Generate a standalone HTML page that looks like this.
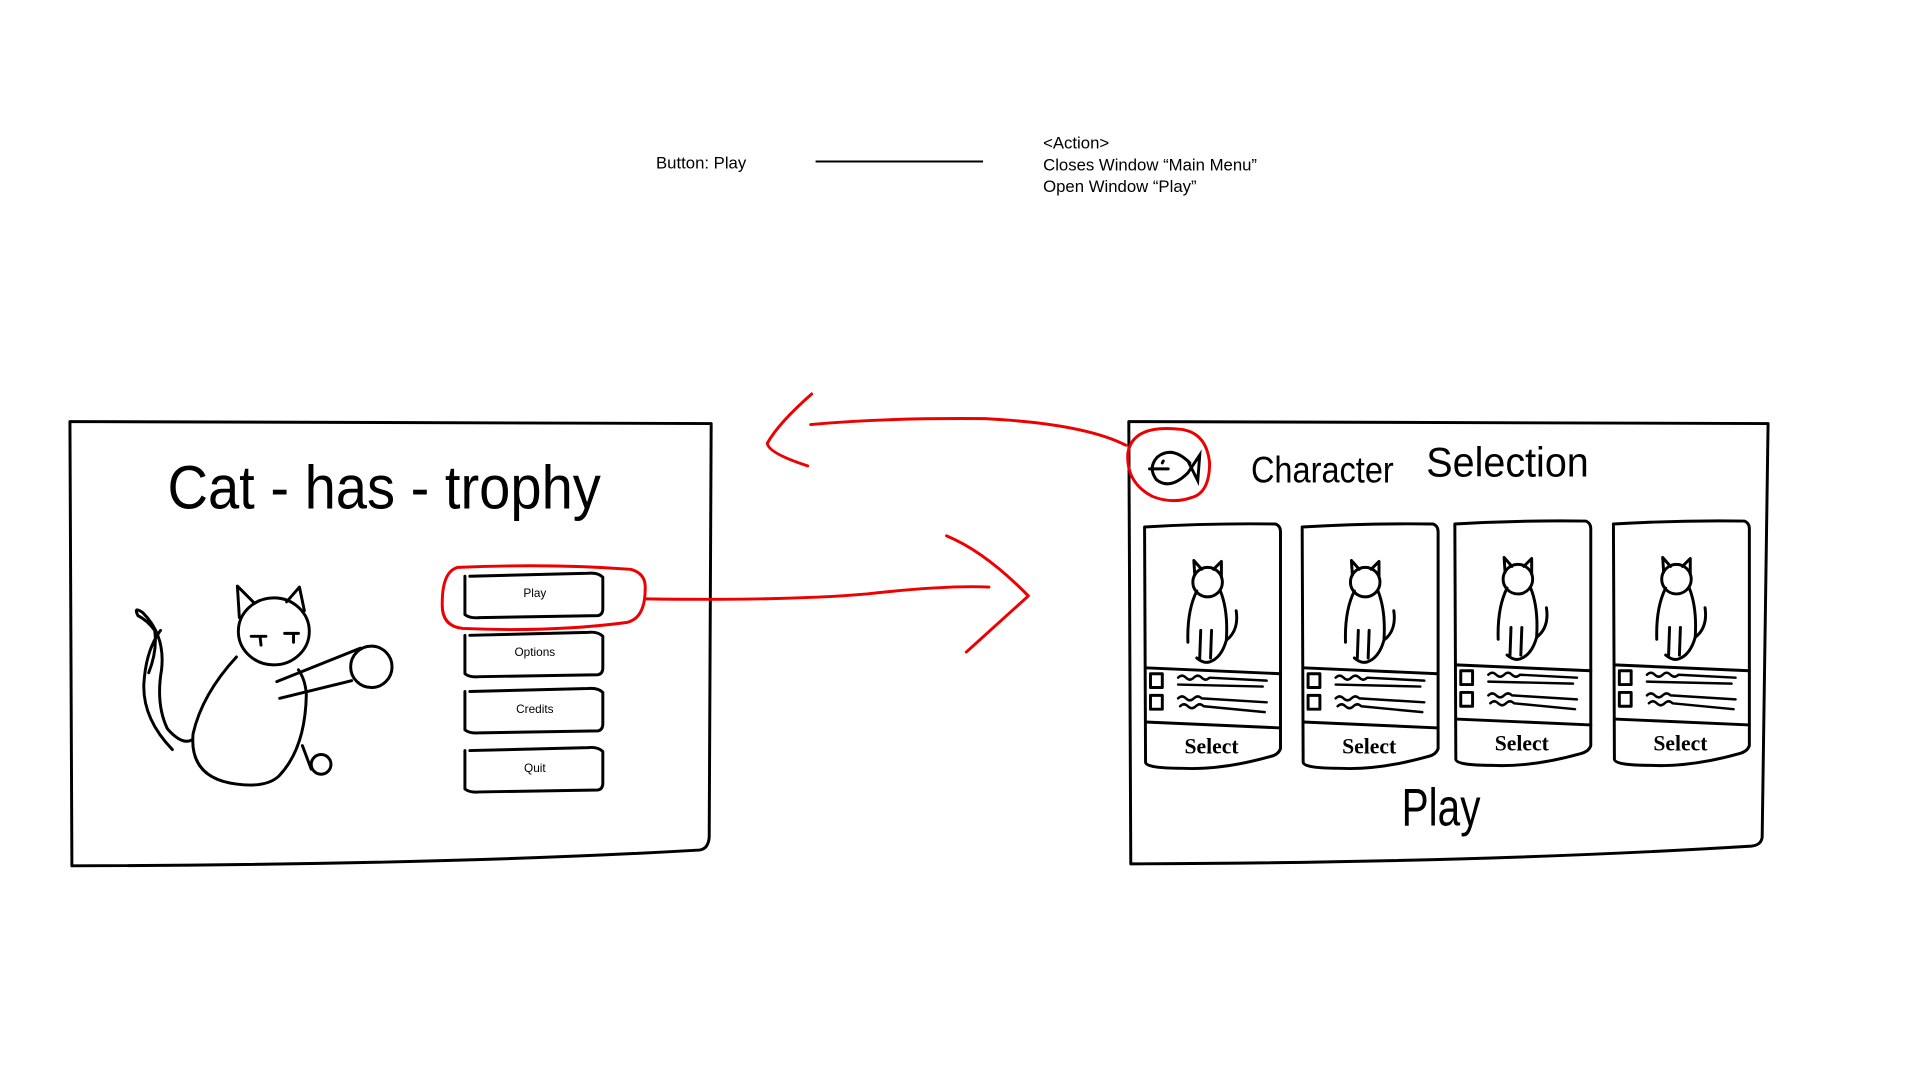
<!DOCTYPE html>
<html><head><meta charset="utf-8"><style>
html,body{margin:0;padding:0;background:#fff;width:1920px;height:1080px;overflow:hidden}
svg{display:block}
.t{font-family:"Liberation Sans",sans-serif;fill:#000}
</style></head><body>
<svg width="1920" height="1080" viewBox="0 0 1920 1080" xmlns="http://www.w3.org/2000/svg">
<g transform="scale(0.985)">
<g class="t" font-size="17">
<text x="666" y="171">Button: Play</text>
<text x="1059" y="151">&lt;Action&gt;</text>
<text x="1059" y="173">Closes Window “Main Menu”</text>
<text x="1059" y="195">Open Window “Play”</text>
</g>
<line x1="828" y1="164" x2="998" y2="164" stroke="#000" stroke-width="2"/>

<g fill="none" stroke="#000" stroke-width="3" stroke-linecap="round" stroke-linejoin="round">
<path d="M71 428 L722 430 L720 850 Q719 862 710 863 Q450 878 73 879 Z"/>
<g transform="translate(7,0)">
<path d="M465 585 L465 624 Q470 628 480 627 L600 625 Q605 624 605 618 L605 586 Q600 581 590 582 L470 585"/>
<path d="M465 645 L465 684 Q470 688 480 687 L600 685 Q605 684 605 678 L605 646 Q600 641 590 642 L470 645"/>
<path d="M465 702 L465 741 Q470 745 480 744 L600 742 Q605 741 605 735 L605 703 Q600 698 590 699 L470 702"/>
<path d="M465 762 L465 801 Q470 805 480 804 L600 802 Q605 801 605 795 L605 763 Q600 758 590 759 L470 762"/>
</g>
<ellipse cx="278" cy="641" rx="36" ry="34"/>
<path d="M243 627 L241 595 L258 612"/>
<path d="M291 611 L304 596 L309 620"/>
<path d="M255 646 L270 646 M264 646 L265 655 M289 643 L303 643 M298 643 L298 652"/>
<path d="M240 667 Q205 705 196 745 Q192 790 240 796 Q270 800 283 788 Q310 760 311 705 Q310 690 303 680"/>
<path d="M281 692 L366 658 M284 709 L357 691"/>
<circle cx="377" cy="677" r="21"/>
<path d="M175 761 Q145 730 146 695 Q148 660 163 640 M151 683 Q160 660 157 640 Q150 630 140 625 Q135 615 145 622 Q168 645 164 680 Q158 715 170 740 Q185 757 195 751"/>
<path d="M307 757 L316 781"/>
<circle cx="326" cy="776" r="10"/>
</g>
<g class="t" font-size="12" text-anchor="middle">
<text x="543" y="606">Play</text>
<text x="543" y="666">Options</text>
<text x="543" y="724">Credits</text>
<text x="543" y="784">Quit</text>
</g>
<text x="390" y="516" text-anchor="middle" font-family="Liberation Sans,sans-serif" font-size="62" textLength="440" lengthAdjust="spacingAndGlyphs">Cat - has - trophy</text>

<g fill="none" stroke="#000" stroke-width="3" stroke-linecap="round" stroke-linejoin="round">
<path d="M1146 428 L1795 430 L1789 850 Q1788 858 1778 859 Q1500 876 1148 877 Z"/>
</g>
<g id="card" fill="none" stroke="#000" stroke-width="3" stroke-linecap="round" stroke-linejoin="round">
<path d="M1162 535 Q1230 531 1295 532 Q1300 534 1300 540 L1300 760 Q1298 766 1290 768 Q1240 782 1200 780 Q1164 780 1163 774 Z"/>
<path d="M1163 678 L1300 684 M1163 733 L1300 739"/>
<rect x="1168" y="684" width="12" height="14"/>
<rect x="1168" y="706" width="12" height="14"/>
<path d="M1196 688 q4 -4 8 0 t8 0 t8 0 t8 0 L1286 691 M1196 695 L1282 697 M1196 709 q4 -4 8 0 t8 0 t8 0 L1286 713 M1198 717 q4 -4 8 0 t8 0 t8 0 L1284 723" stroke-width="2.5"/>
<ellipse cx="1226" cy="591" rx="15" ry="15"/>
<path d="M1213 584 L1212 569 L1220 578 M1232 578 L1240 570 L1240 586"/>
<path d="M1215 600 Q1205 620 1206 652 M1239 600 Q1247 620 1245 650 Q1240 668 1228 672 Q1222 674 1215 668 M1219 640 L1218 668 M1230 640 L1229 668 M1245 650 Q1258 640 1255 620"/>
<text x="1230" y="765" text-anchor="middle" stroke="none" fill="#000" font-family="Liberation Serif,serif" font-weight="bold" font-size="22">Select</text>
</g>
<use href="#card" transform="translate(160,0)"/>
<use href="#card" transform="translate(315,-3)"/>
<use href="#card" transform="translate(476,-3)"/>
<g fill="none" stroke="#000" stroke-width="3" stroke-linecap="round">
<path d="M1208 470 Q1190 452 1175 464 Q1165 475 1174 487 Q1188 498 1206 480 L1218 462 L1216 488 L1206 468"/>
<path d="M1167 476 L1186 476 M1181 468 L1180 470"/>
</g>
<text x="1270" y="490" font-family="Liberation Sans,sans-serif" font-size="38" textLength="145" lengthAdjust="spacingAndGlyphs">Character</text>
<text x="1448" y="484" font-family="Liberation Sans,sans-serif" font-size="42" textLength="165" lengthAdjust="spacingAndGlyphs">Selection</text>
<text x="1423" y="838" font-family="Liberation Sans,sans-serif" font-size="54" textLength="80" lengthAdjust="spacingAndGlyphs">Play</text>

<g fill="none" stroke="#e00" stroke-width="3" stroke-linecap="round" stroke-linejoin="round">
<path d="M465 576 Q560 572 640 578 Q656 582 655 598 Q655 628 636 632 Q560 642 470 638 Q448 636 449 612 Q449 580 465 576 Z"/>
<path d="M656 608 Q800 610 880 603 Q960 594 1004 596"/>
<path d="M961 544 Q1000 560 1044 605 L981 662"/>
<path d="M1143 452 Q1100 430 1000 425 Q900 424 823 431"/>
<path d="M824 400 Q790 430 779 450 Q780 460 820 473"/>
<path d="M1200 436 Q1225 440 1228 470 Q1228 500 1210 505 Q1190 512 1170 504 Q1143 490 1145 460 Q1150 430 1200 436 Z"/>
</g>
</g>
</svg>
</body></html>
